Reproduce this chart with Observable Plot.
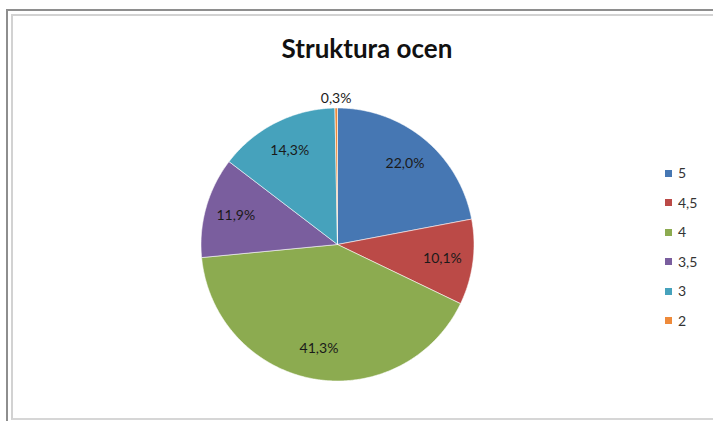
<!DOCTYPE html>
<html>
<head>
<meta charset="utf-8">
<script src="https://cdn.jsdelivr.net/npm/d3@7"></script>
<script src="https://cdn.jsdelivr.net/npm/@observablehq/plot@0.6"></script>
<style>
  html, body { margin: 0; padding: 0; background: #fff; }
  #wrap { position: relative; width: 713px; height: 421px; overflow: hidden; background: #fff; font-family: Lato, "Open Sans", sans-serif; }
  #wrap svg { position: absolute; left: 0; top: 0; }
  .frame1 { position: absolute; left: 6px; top: 9px; width: 800px; height: 500px; border-left: 2px solid #8e8e8e; border-top: 2px solid #8e8e8e; }
  .frame2 { position: absolute; left: 11px; top: 14px; width: 800px; height: 402px; border-left: 2px solid #d2d2d2; border-top: 2px solid #d2d2d2; border-bottom: 2px solid #d6d6d6; }
  #title { position: absolute; left: 167px; width: 400px; top: 35px; text-align: center; font: bold 26px/26px Lato, sans-serif; color: #111; }
  .leg { position: absolute; left: 665px; font: 14px/14px Lato, sans-serif; color: #333; white-space: nowrap; }
  .leg .sw { position: absolute; left: 0; top: 3.5px; width: 7px; height: 7px; }
  .leg .tx { position: absolute; left: 13px; top: 0; }
</style>
</head>
<body>
<div id="wrap">
  <div class="frame1"></div>
  <div class="frame2"></div>
</div>
<script>
// ---- data ----
const title = "Struktura ocen";
const grades = ["5", "4,5", "4", "3,5", "3", "2"];
const shares = [22.0, 10.1, 41.3, 11.9, 14.3, 0.3];
const colors = ["#4677b3", "#bb4a47", "#8cab50", "#7a5e9e", "#46a2bc", "#ee8a3a"];

// ---- layout ----
const W = 713, H = 421;
const cx = 337, cy = 244, R = 136.5;

const fmt = v => v.toFixed(1).replace(".", ",") + "%";

const arcs = d3.pie().sort(null).value(d => d)(shares);

// slice outlines in unit-circle coordinates (y up)
const pts = [];
arcs.forEach((a, i) => {
  const g = grades[i];
  pts.push({grade: g, x: 0, y: 0});
  const n = Math.max(2, Math.ceil((a.endAngle - a.startAngle) / (Math.PI / 360)));
  for (let k = 0; k <= n; k++) {
    const t = a.startAngle + (a.endAngle - a.startAngle) * k / n;
    pts.push({grade: g, x: Math.sin(t), y: Math.cos(t)});
  }
  pts.push({grade: g, x: 0, y: 0});
});

const labelData = arcs.map((a, i) => {
  const m = (a.startAngle + a.endAngle) / 2;
  const r = shares[i] < 1 ? 1.07 : 0.775;
  return {x: r * Math.sin(m), y: r * Math.cos(m), text: fmt(shares[i])};
});

const chart = Plot.plot({
  width: W,
  height: H,
  margin: 0,
  x: {domain: [-cx / R, (W - cx) / R], axis: null},
  y: {domain: [-(H - cy) / R, cy / R], axis: null},
  color: {domain: grades, range: colors},
  style: {background: "transparent", overflow: "visible"},
  marks: [
    Plot.line(pts, {x: "x", y: "y", z: "grade", fill: "grade", stroke: "#ffffff", strokeOpacity: 0.7, strokeWidth: 0.8, curve: "linear"}),
    Plot.text(labelData, {x: "x", y: "y", text: "text", fontSize: 14, fill: "#1a1a1a", fontFamily: "Lato, sans-serif"})
  ]
});

const wrap = document.getElementById("wrap");
wrap.appendChild(chart);

const t = document.createElement("div");
t.id = "title";
t.textContent = title;
wrap.appendChild(t);

const legTop = 173, legStep = 29.5;
grades.forEach((g, i) => {
  const d = document.createElement("div");
  d.className = "leg";
  d.style.top = (legTop + i * legStep - 7) + "px";
  const s = document.createElement("div");
  s.className = "sw";
  s.style.background = colors[i];
  const tx = document.createElement("div");
  tx.className = "tx";
  tx.textContent = g;
  d.appendChild(s);
  d.appendChild(tx);
  wrap.appendChild(d);
});
</script>
</body>
</html>
